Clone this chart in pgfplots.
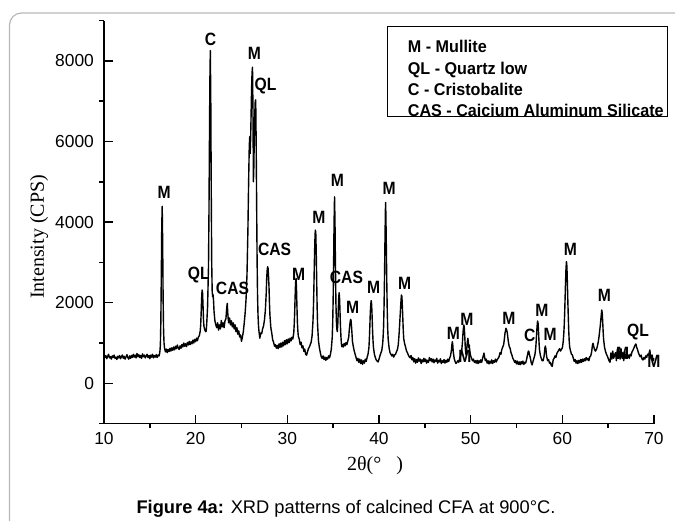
\documentclass[border=0pt]{standalone}
\usepackage{pgfplots}
\pgfplotsset{compat=1.18}
\usepackage{fontspec}
\setmainfont{Liberation Sans}
\newfontfamily\serifface{Liberation Serif}
\newfontfamily\peakface[FakeStretch=0.88]{Liberation Sans}
\newfontfamily\keyface[FakeStretch=0.95]{Liberation Sans}
\tikzset{peak/.style={font=\fontsize{8.9}{10}\selectfont\peakface\bfseries, inner sep=0pt}}

\begin{document}
\begin{tikzpicture}
\begin{axis}[
  scale only axis,
  width=275pt, height=201.5pt,
  xmin=10, xmax=70, ymin=-1000, ymax=9000,
  axis lines*=left,
  axis line style={line width=0.75pt},
  xtick={10,20,...,70},
  ytick={0,2000,4000,6000,8000},
  minor xtick={15,25,...,65},
  minor ytick={-1000,1000,3000,5000,7000,9000},
  tick align=inside,
  major tick length=4.5pt,
  minor tick length=2.25pt,
  tick style={black, line width=0.75pt},
  every minor x tick/.append style={yshift=-2.25pt},
  every minor y tick/.append style={xshift=-2.25pt},
  ticklabel style={font=\fontsize{8.7}{10}\selectfont},
  xticklabel style={yshift=-1pt},
  yticklabel style={xshift=-1.5pt},
  /pgf/number format/assume math mode=true,
  /pgf/number format/1000 sep={},
  clip=false,
]
% XRD pattern, intensity in counts per second against 2theta
\addplot[black, line width=0.7pt, line join=round] coordinates {
(10.0,700) (10.1,640) (10.2,690) (10.3,610) (10.4,670) (10.5,720) (10.6,630) (10.7,660) (10.8,600) (10.9,680)
(11.0,640) (11.1,700) (11.2,620) (11.3,650) (11.4,590) (11.5,670) (11.6,630) (11.7,690) (11.8,610) (11.9,660)
(12.0,700) (12.1,620) (12.2,670) (12.3,600) (12.4,650) (12.5,710) (12.6,640) (12.7,600) (12.8,680) (12.9,620)
(13.0,690) (13.1,640) (13.2,720) (13.3,650) (13.4,700) (13.5,630) (13.6,740) (13.7,660) (13.8,710) (13.9,640)
(14.0,690) (14.1,620) (14.2,730) (14.3,660) (14.4,700) (14.5,630) (14.6,680) (14.7,720) (14.8,640) (14.9,690)
(15.0,610) (15.1,700) (15.2,650) (15.3,720) (15.4,630) (15.5,690) (15.6,650) (15.7,710) (15.8,640) (15.9,700)
(16.0,680) (16.05,720) (16.1,790) (16.15,950) (16.2,1500) (16.25,2600) (16.3,3900) (16.35,4390) (16.4,3500)
(16.45,2100) (16.5,1300) (16.55,1000) (16.6,880) (16.7,780)
(16.8,850) (16.9,760) (17.0,840) (17.1,790) (17.2,870) (17.3,800) (17.4,880) (17.5,820) (17.6,900) (17.7,830)
(17.8,920) (17.9,860) (18.0,950) (18.1,880) (18.2,840) (18.3,930) (18.4,870) (18.5,960) (18.6,900) (18.7,1000)
(18.8,920) (18.9,980) (19.0,910) (19.1,1010) (19.2,950) (19.3,1040) (19.4,960) (19.5,1030) (19.6,980) (19.7,1070)
(19.8,1000) (19.9,1090) (20.0,1030) (20.1,1120) (20.2,1060) (20.3,1150)
(20.4,1180) (20.5,1300) (20.55,1450) (20.6,1750) (20.65,2100) (20.7,2316) (20.75,2250) (20.8,1950) (20.85,1600)
(20.9,1420) (21.0,1320) (21.1,1280) (21.15,1300) (21.2,1450) (21.3,1900) (21.4,2900) (21.45,4200) (21.5,5900)
(21.55,7500) (21.6,8255) (21.65,7000) (21.7,4800) (21.75,3000) (21.8,2300) (21.85,2150) (21.9,2200) (21.95,2050)
(22.0,1800) (22.1,1550) (22.2,1450) (22.3,1380)
(22.4,1500) (22.5,1320) (22.6,1450) (22.7,1350) (22.8,1560) (22.9,1400) (23.0,1500) (23.1,1380) (23.2,1550)
(23.3,1600) (23.35,1750) (23.4,1900) (23.45,1985) (23.5,1750) (23.55,1600) (23.6,1500) (23.7,1620) (23.8,1450)
(23.9,1550) (24.0,1400) (24.1,1500) (24.2,1350) (24.3,1450) (24.4,1280) (24.5,1380) (24.6,1220) (24.7,1300)
(24.8,1150) (24.9,1200) (25.0,1040) (25.1,1150) (25.2,1280) (25.3,1500) (25.4,1750) (25.5,2100) (25.6,2700)
(25.7,3800) (25.75,4600) (25.8,5300) (25.85,5900) (25.9,6120) (25.95,5700) (26.0,6100) (26.05,6700) (26.1,7300)
(26.15,7700) (26.2,7843) (26.25,6800) (26.3,5000) (26.35,5400) (26.4,6200) (26.45,6700) (26.5,7000) (26.55,7032)
(26.6,6000) (26.65,4500) (26.7,3100) (26.75,2200) (26.8,1700) (26.85,1450) (26.9,1300) (27.0,1120) (27.1,1250)
(27.2,1230) (27.3,1350) (27.4,1420) (27.5,1560) (27.6,1800) (27.7,2250) (27.75,2600) (27.8,2800) (27.85,2894)
(27.9,2850) (27.95,2650) (28.0,2400) (28.05,2000) (28.1,1700) (28.2,1380) (28.3,1250) (28.4,1080) (28.5,1020)
(28.6,920) (28.7,960) (28.8,870) (28.9,940) (29.0,860) (29.1,980) (29.2,890) (29.3,1000) (29.4,900) (29.5,1020)
(29.6,930) (29.7,1060) (29.8,960) (29.9,1080) (30.0,980) (30.1,1100) (30.2,1010) (30.3,1120) (30.4,1050)
(30.5,1140) (30.6,1100) (30.7,1250) (30.75,1450) (30.8,1750) (30.85,2150) (30.9,2500) (30.95,2606) (31.0,2350)
(31.05,1900) (31.1,1500) (31.15,1300) (31.2,1160) (31.3,1100) (31.4,960) (31.5,1020) (31.6,880) (31.7,930)
(31.8,790) (31.9,850) (32.0,720) (32.1,700) (32.2,780) (32.3,860) (32.4,900) (32.5,960) (32.6,1020) (32.7,1180)
(32.8,1550) (32.85,1900) (32.9,2400) (32.95,3000) (33.0,3500) (33.05,3800) (33.1,3750) (33.15,3300) (33.2,2600)
(33.25,1900) (33.3,1450) (33.4,1050) (33.5,880) (33.6,760) (33.7,660) (33.8,620) (33.9,680) (34.0,590)
(34.1,650) (34.2,570) (34.3,640) (34.4,600) (34.5,680) (34.6,630) (34.7,720) (34.8,850) (34.9,1150) (34.95,1500)
(35.0,2100) (35.05,3000) (35.1,4000) (35.15,4628) (35.2,4000) (35.25,2900) (35.3,2000) (35.35,1550) (35.4,1350)
(35.45,1281) (35.5,1450) (35.55,1750) (35.6,2100) (35.65,2249) (35.7,2100) (35.75,1750) (35.8,1400) (35.85,1150)
(35.9,980) (35.95,908) (36.0,960) (36.1,900) (36.2,990) (36.3,930) (36.4,1010) (36.5,960) (36.6,1050) (36.7,1150)
(36.75,1300) (36.8,1420) (36.85,1520) (36.9,1588) (36.95,1560) (37.0,1420) (37.05,1250) (37.1,1050) (37.2,910)
(37.3,800) (37.4,720) (37.5,640) (37.6,560) (37.7,620) (37.8,520) (37.9,600) (38.0,490) (38.1,580) (38.2,470)
(38.3,560) (38.4,500) (38.5,600) (38.6,540) (38.7,640) (38.8,720) (38.9,880) (38.95,1100) (39.0,1400) (39.05,1750)
(39.1,1950) (39.15,2050) (39.2,1950) (39.25,1650) (39.3,1300) (39.35,1050) (39.4,880) (39.5,720) (39.6,640)
(39.7,580) (39.8,550) (39.9,530) (40.0,600) (40.1,680) (40.2,750) (40.3,810) (40.4,980) (40.45,1150) (40.5,1400)
(40.55,1900) (40.6,2600) (40.65,3500) (40.7,4300) (40.72,4487) (40.75,4200) (40.8,3400) (40.85,2500) (40.9,1800)
(40.95,1350) (41.0,1100) (41.1,880) (41.2,760) (41.3,720) (41.4,680) (41.5,720) (41.6,650) (41.7,700) (41.8,720)
(41.9,780) (42.0,830) (42.1,950) (42.15,1100) (42.2,1250) (42.25,1450) (42.3,1650) (42.35,1850) (42.4,2050)
(42.45,2192) (42.5,2150) (42.55,1900) (42.6,1600) (42.65,1300) (42.7,1100) (42.8,980) (42.9,900) (43.0,800)
(43.1,760) (43.2,700) (43.3,660) (43.4,630) (43.5,690) (43.6,580)
(43.7,640) (43.8,530) (43.9,610) (44.0,500) (44.1,590) (44.2,520) (44.3,630) (44.4,550) (44.5,600) (44.6,490)
(44.7,580) (44.8,530) (44.9,620) (45.0,540) (45.1,600) (45.2,500) (45.3,570) (45.4,520) (45.5,640) (45.6,560)
(45.7,610) (45.8,530) (45.9,600) (46.0,510) (46.1,580) (46.2,540) (46.3,620) (46.4,500) (46.5,570) (46.6,530)
(46.7,610) (46.8,490) (46.9,560) (47.0,520) (47.1,590) (47.2,500) (47.3,570) (47.4,520) (47.5,600) (47.6,540)
(47.7,620) (47.8,680) (47.9,820) (47.95,950) (48.0,1033) (48.05,950) (48.1,780) (48.2,620) (48.3,540) (48.4,490)
(48.5,520) (48.6,560) (48.7,520) (48.8,620) (48.9,680) (49.0,760) (49.05,880) (49.1,1000) (49.15,1200)
(49.2,1350) (49.25,1447) (49.3,1400) (49.35,1200) (49.4,950) (49.45,780) (49.5,700) (49.55,800) (49.6,920)
(49.65,1050) (49.7,1117) (49.75,1000) (49.8,880) (49.85,950) (49.9,800) (50.0,680) (50.1,620) (50.2,560)
(50.3,600) (50.4,520) (50.5,560) (50.6,500) (50.7,570) (50.8,490) (50.9,560) (51.0,510) (51.1,580) (51.2,520)
(51.3,620) (51.4,700) (51.45,750) (51.5,680) (51.6,560) (51.7,600) (51.8,500) (51.9,560) (52.0,480) (52.1,550)
(52.2,500) (52.3,580) (52.4,490) (52.5,560) (52.6,520) (52.7,600) (52.8,530) (52.9,590) (53.0,620) (53.1,660)
(53.2,760) (53.3,720) (53.4,840) (53.5,900) (53.6,960) (53.65,1050) (53.7,1150) (53.75,1250) (53.8,1300)
(53.85,1365) (53.9,1340) (53.95,1300) (54.0,1250) (54.05,1150) (54.1,1050) (54.2,920) (54.3,870) (54.4,760)
(54.5,700) (54.6,620) (54.7,580) (54.8,520) (54.9,560) (55.0,480) (55.1,550) (55.2,470) (55.3,530) (55.4,460)
(55.5,540) (55.6,480) (55.7,550) (55.8,470) (55.9,520) (56.0,500) (56.1,590) (56.2,700) (56.25,760) (56.3,800)
(56.35,790) (56.4,720) (56.5,640) (56.6,520) (56.7,455) (56.8,540) (56.9,620) (57.0,700) (57.05,780) (57.1,880)
(57.15,1050) (57.2,1250) (57.25,1420) (57.3,1546) (57.35,1500) (57.4,1300) (57.45,1050) (57.5,850) (57.6,700)
(57.7,620) (57.8,560) (57.9,560) (58.0,660) (58.05,760) (58.1,880) (58.15,926) (58.2,870) (58.25,740) (58.3,650)
(58.4,560) (58.5,590) (58.6,500) (58.7,520) (58.8,440) (58.9,420) (59.0,580) (59.1,620) (59.2,680) (59.3,640)
(59.4,740) (59.5,780) (59.6,820) (59.7,860) (59.8,800) (59.9,840) (60.0,880) (60.05,950) (60.1,1050) (60.15,1200)
(60.2,1400) (60.25,1700) (60.3,2100) (60.35,2500) (60.4,2850) (60.45,3018) (60.5,2900) (60.55,2500) (60.6,2050)
(60.65,1650) (60.7,1300) (60.75,1050) (60.8,900) (60.9,800) (61.0,720) (61.1,700)
(61.2,620) (61.3,540) (61.4,590) (61.5,500) (61.6,560) (61.7,490) (61.8,570) (61.9,510) (62.0,590) (62.1,520)
(62.2,600) (62.3,540) (62.4,610) (62.5,560) (62.6,640) (62.7,580) (62.8,620) (62.9,560) (63.0,660) (63.1,680)
(63.2,780) (63.25,880) (63.3,960) (63.35,993) (63.4,940) (63.5,850) (63.6,800) (63.7,830) (63.8,900) (63.9,1000)
(64.0,1150) (64.05,1250) (64.1,1350) (64.15,1450) (64.2,1580) (64.25,1700) (64.3,1819) (64.35,1750) (64.4,1550)
(64.45,1300) (64.5,1100) (64.6,900) (64.7,800) (64.8,730) (64.9,680) (65.0,620) (65.1,560) (65.2,521) (65.3,751)
(65.4,600) (65.5,800) (65.6,620) (65.7,700) (65.8,760) (65.9,560) (66.0,850) (66.1,640) (66.2,800) (66.3,600)
(66.4,860) (66.5,650) (66.6,760) (66.7,560) (66.8,800) (66.9,620) (67.0,720) (67.1,640) (67.2,700) (67.3,620)
(67.4,720) (67.5,680) (67.6,780) (67.7,820) (67.8,870) (67.9,930) (68.0,975) (68.05,960) (68.1,900) (68.2,840)
(68.3,760) (68.4,700) (68.5,660) (68.6,700) (68.7,600) (68.8,580) (68.9,640) (69.0,600) (69.1,680) (69.2,640)
(69.3,720) (69.4,700) (69.5,780) (69.55,826) (69.6,720) (69.7,600) (69.8,700) (69.9,560) (70.0,620)
};
% phase labels above the reflections
\node[peak] at (axis cs:16.55,4741) {M};
\node[peak] at (axis cs:20.35,2688) {QL};
\node[peak] at (axis cs:21.62,8538) {C};
\node[peak] at (axis cs:24.02,2348) {CAS};
\node[peak] at (axis cs:26.41,8191) {M};
\node[peak] at (axis cs:27.63,7379) {QL};
\node[peak] at (axis cs:28.61,3326) {CAS};
\node[peak] at (axis cs:31.24,2713) {M};
\node[peak] at (axis cs:33.45,4110) {M};
\node[peak] at (axis cs:35.47,5046) {M};
\node[peak] at (axis cs:36.45,2621) {CAS};
\node[peak] at (axis cs:37.12,1886) {M};
\node[peak] at (axis cs:39.42,2383) {M};
\node[peak] at (axis cs:41.11,4840) {M};
\node[peak] at (axis cs:42.79,2482) {M};
\node[peak] at (axis cs:48.11,1241) {M};
\node[peak] at (axis cs:49.60,1589) {M};
\node[peak] at (axis cs:49.38,678) {M};
\node[peak] at (axis cs:54.16,1613) {M};
\node[peak] at (axis cs:56.46,1199) {C};
\node[peak] at (axis cs:57.78,1802) {M};
\node[peak] at (axis cs:58.68,1216) {M};
\node[peak] at (axis cs:60.88,3333) {M};
\node[peak] at (axis cs:64.59,2184) {M};
\node[peak] at (axis cs:66.58,752) {M};
\node[peak] at (axis cs:68.25,1266) {QL};
\node[peak] at (axis cs:70.00,536) {M};
\end{axis}

% page furniture in pixel units of the 675 x 520 figure
\begin{scope}[x=0.5pt, y=-0.5pt, shift={(-52pt,211.8pt)}]
  \draw[black!28, line width=0.6pt, rounded corners=6pt] (9.5,13) rectangle (720,580);
  \draw[line width=0.5pt] (387,27) rectangle (667,117);
  \begin{scope}[every node/.style={anchor=base west, inner sep=0pt,
      font=\fontsize{8.5}{10}\selectfont\keyface\bfseries}]
    \node at (407.5,52.5) {M - Mullite};
    \node at (407.5,74.3) {QL - Quartz low};
    \node at (407.5,96.0) {C - Cristobalite};
    \node at (407.5,116.5) {CAS - Caicium Aluminum Silicate};
  \end{scope}
  \node[rotate=90, inner sep=0pt, font=\fontsize{10}{12}\selectfont\serifface] at (39,237) {Intensity (CPS)};
  \node[inner sep=0pt, font=\fontsize{10}{12}\selectfont\serifface] at (375,466) {2θ(°\ \ \ )};
  \node[anchor=base, inner sep=0pt, font=\fontsize{9.15}{11}\selectfont] at (346,513.5)
    {\textbf{Figure 4a:} XRD patterns of calcined CFA at 900°C.};
  \pgfresetboundingbox
  \path[use as bounding box] (0,0) rectangle (675,520);
\end{scope}
\end{tikzpicture}
\end{document}
